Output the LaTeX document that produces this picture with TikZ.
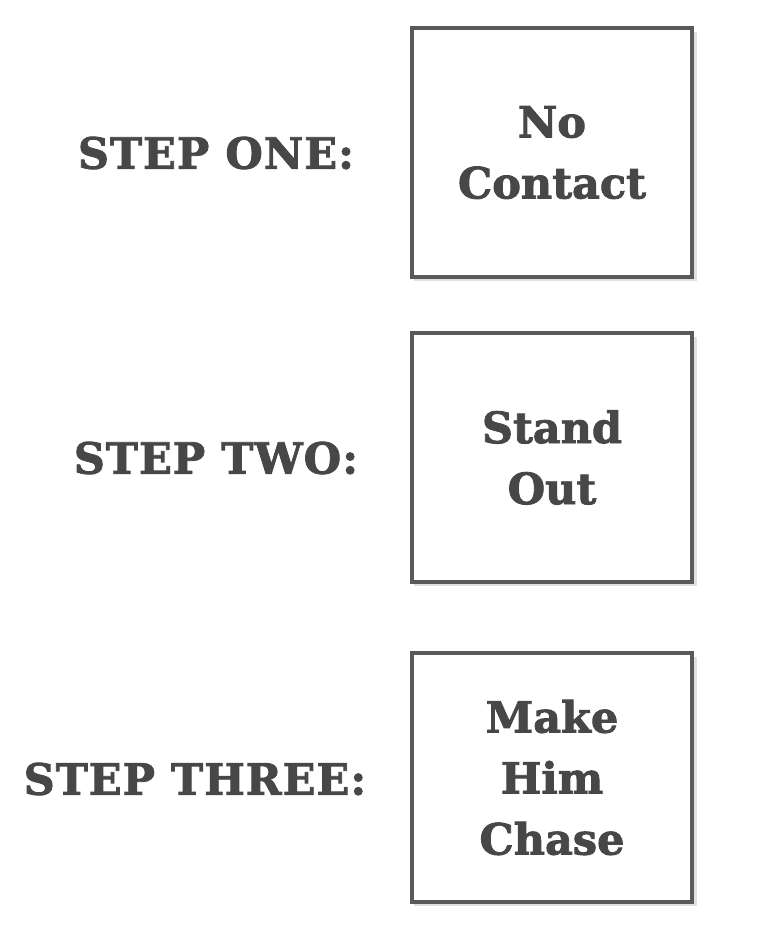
\documentclass[tikz,border=0pt]{standalone}
\usepackage{fontspec}
\setmainfont{DejaVu Serif}[BoldFeatures={FakeBold=2}]
\newfontfamily\labelfont{DejaVu Serif}[BoldFeatures={FakeBold=2,LetterSpace=2.5}]
\definecolor{ink}{HTML}{474747}
\definecolor{frame}{HTML}{5A5A5A}
\begin{document}
\begin{tikzpicture}[x=1pt,y=-1pt,
  stepbox/.style={draw=frame,line width=3.5pt,fill=white,minimum width=280pt,minimum height=249pt,inner sep=0pt},
  boxtext/.style={text=ink,font=\bfseries\fontsize{43}{61}\selectfont,align=center},
  steplabel/.style={text=ink,font=\labelfont\bfseries\fontsize{43}{50}\selectfont}]
\useasboundingbox (0,0) rectangle (783,935);
\fill[white] (0,0) rectangle (783,935);
\foreach \y in {152.5,457.5,777.5}{\fill[black!12] (414,\y-121) rectangle (697,\y+128);}
\node[stepbox] (b1) at (552,152.5) {};
\node[stepbox] (b2) at (552,457.5) {};
\node[stepbox] (b3) at (552,777.5) {};
\node[boxtext] (t1) at (b1) {No\\Contact};
\node[boxtext] (t2) at (b2) {Stand\\Out};
\node[boxtext] (t3) at (b3) {Make\\Him\\Chase};
\node[steplabel] (l1) at (216,153) {STEP ONE:};
\node[steplabel] (l2) at (216,458) {STEP TWO:};
\node[steplabel] (l3) at (195,779) {STEP THREE:};
\end{tikzpicture}
\end{document}
